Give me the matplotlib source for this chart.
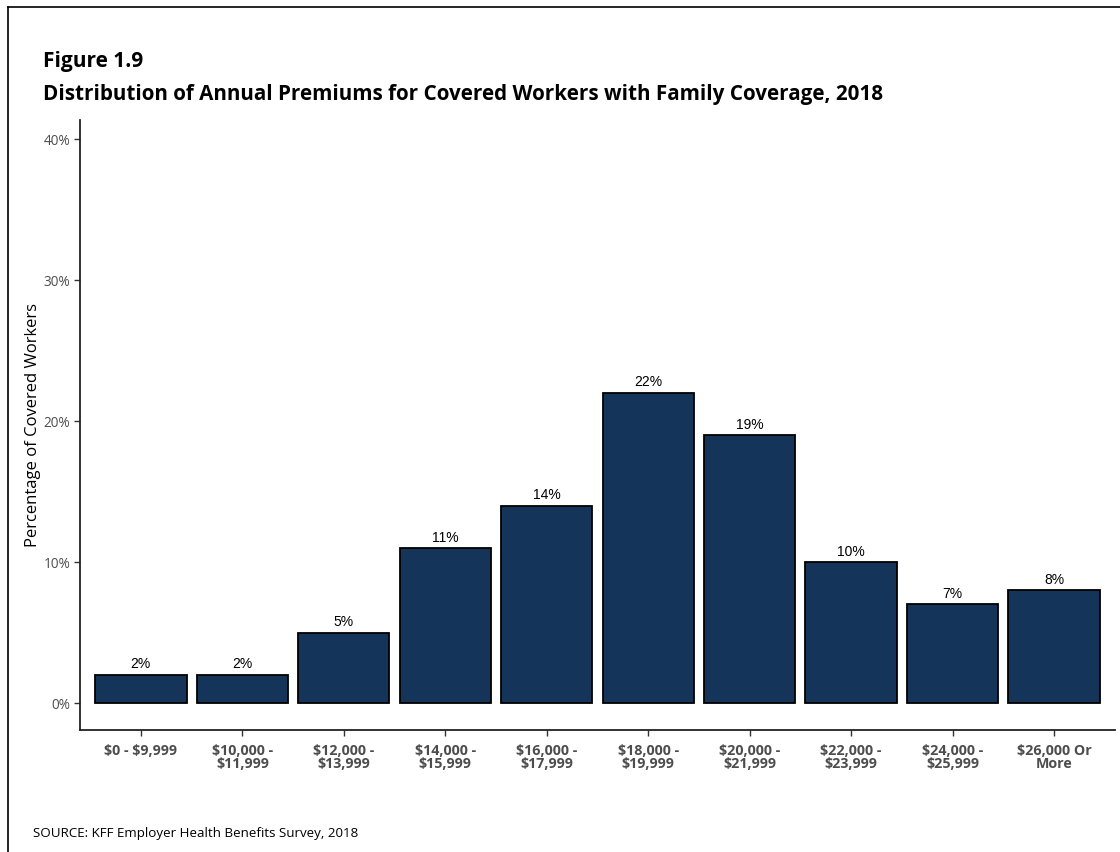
import matplotlib.pyplot as plt
from matplotlib.lines import Line2D

plt.rcParams['text.parse_math'] = False

# premium ranges and share of covered workers (%)
categories = ['$0 - $9,999', '$10,000 -\n$11,999', '$12,000 -\n$13,999', '$14,000 -\n$15,999',
              '$16,000 -\n$17,999', '$18,000 -\n$19,999', '$20,000 -\n$21,999', '$22,000 -\n$23,999',
              '$24,000 -\n$25,999', '$26,000 Or\nMore']
shares = [2, 2, 5, 11, 14, 22, 19, 10, 7, 8]
y_ticks = [0, 10, 20, 30, 40]

bar_color = '#15345a'
tick_gray = '#4d4d4d'
sans = ['Open Sans', 'DejaVu Sans']

fig = plt.figure(figsize=(11.2, 8.52), dpi=100)
ax = fig.add_axes([0.0714, 0.1432, 0.9241, 0.7160])

x = range(len(categories))
ax.bar(x, shares, width=0.9, color=bar_color, edgecolor='black', linewidth=1.3, zorder=2)
for xi, v in zip(x, shares):
    ax.text(xi, v + 0.25, f'{v}%', ha='center', va='bottom', fontsize=10,
            family='Liberation Sans', color='black')

ax.set_xlim(-0.6, 9.6)
ax.set_ylim(-1.9, 41.35)
ax.set_yticks(y_ticks)
ax.set_yticklabels([f'{t}%' for t in y_ticks], family=sans, fontsize=9.8, color=tick_gray)
ax.set_xticks(list(x))
ax.set_xticklabels(categories, family=sans, fontsize=10.3, fontweight='bold', color=tick_gray,
                   linespacing=0.95)
ax.tick_params(axis='both', length=4, width=1, color='#333333')
ax.tick_params(axis='x', pad=6)
ax.tick_params(axis='y', pad=3)
for side in ['top', 'right']:
    ax.spines[side].set_visible(False)
for side in ['left', 'bottom']:
    ax.spines[side].set_linewidth(1.3)
    ax.spines[side].set_color('#222222')

ax.set_ylabel('Percentage of Covered Workers', family=sans, fontsize=12, labelpad=2)

fig.text(0.0384, 0.928, 'Figure 1.9', family=sans, fontsize=15, fontweight='bold', va='center')
fig.text(0.0384, 0.8885, 'Distribution of Annual Premiums for Covered Workers with Family Coverage, 2018',
         family=sans, fontsize=14.9, fontweight='bold', va='center')
fig.text(0.0295, 0.022, 'SOURCE: KFF Employer Health Benefits Survey, 2018', family=sans,
         fontsize=9.6, va='center')

# thin frame along the top and left edges
fig.add_artist(Line2D([0.0071, 1.0], [0.9918, 0.9918], color='black', linewidth=1.2,
                      transform=fig.transFigure))
fig.add_artist(Line2D([0.0071, 0.0071], [0.0, 0.9918], color='black', linewidth=1.2,
                      transform=fig.transFigure))

fig.savefig('out.png', dpi=100)
